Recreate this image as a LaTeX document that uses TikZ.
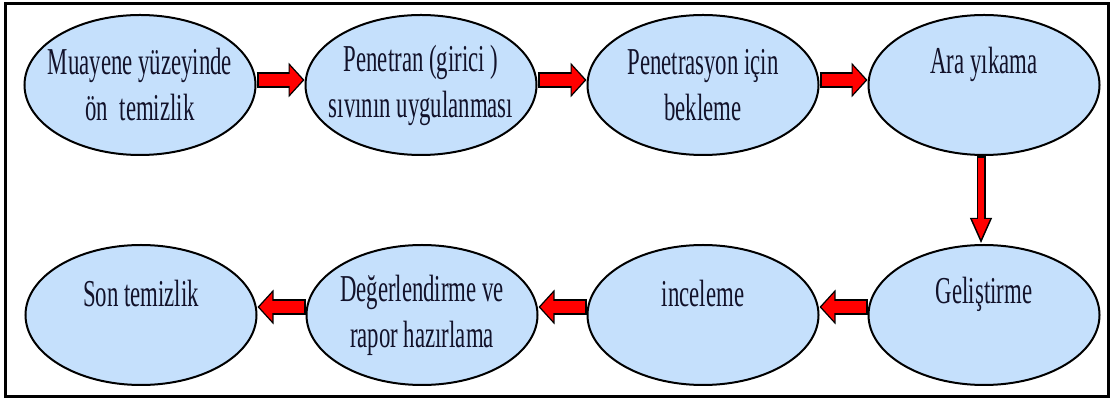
\documentclass[tikz,border=0pt]{standalone}
\usepackage{fontspec}
\setmainfont[FakeStretch=0.6]{Liberation Serif}
\usetikzlibrary{shapes.geometric,arrows.meta}
\definecolor{stageblue}{RGB}{197,224,252}
\definecolor{flowred}{RGB}{255,0,0}
\definecolor{inkblue}{RGB}{18,18,42}

\begin{document}
\begin{tikzpicture}[x=0.5pt,y=-0.5pt,
  stage/.style={ellipse,draw=black,line width=1pt,fill=stageblue,
    minimum width=115.5pt,minimum height=70pt,inner sep=0pt},
  stagetext/.style={align=center,text=inkblue,
    font=\fontsize{19}{23}\selectfont},
  oneline/.style={stagetext,yshift=10.5pt},
  flowedge/.style={draw=black,line width=8pt,-{Triangle[width=17pt,length=8pt]}},
  flowcore/.style={draw=flowred,line width=6pt,shorten <=1pt,shorten >=0.96pt,
    -{Triangle[width=13.9pt,length=6.5pt]}},
  downedge/.style={draw=black,line width=4.5pt,-{Triangle[width=10pt,length=13pt]}},
  downcore/.style={draw=flowred,line width=3pt,shorten <=1pt,shorten >=2.1pt,
    -{Triangle[width=8pt,length=10.3pt]}}]
\useasboundingbox (0,0) rectangle (1113,405);
\draw[line width=1.5pt] (5,4) rectangle (1108,397);
% Top row
\node[stage,label={[stagetext]center:{Muayene yüzeyinde\\ön\ \ temizlik}}] (clean) at (140,85) {};
\node[stage,label={[stagetext]center:{Penetran (girici )\\sıvının uygulanması}}] (apply) at (421,85) {};
\node[stage,label={[stagetext]center:{Penetrasyon için\\bekleme}}] (dwell) at (703,85) {};
\node[stage,label={[oneline]center:Ara yıkama}] (rinse) at (984,85) {};
% Bottom row
\node[stage,label={[oneline]center:Geliştirme}] (develop) at (984,315) {};
\node[stage,label={[oneline]center:inceleme}] (inspect) at (703,315) {};
\node[stage,label={[stagetext]center:{Değerlendirme ve\\rapor hazırlama}}] (report) at (422,315) {};
\node[stage,label={[oneline]center:Son temizlik}] (final) at (141,315) {};
% Arrows
\foreach \a/\b in {clean/apply,apply/dwell,dwell/rinse} {
  \draw[flowedge] ([yshift=2.5pt]\a.east) -- ([yshift=2.5pt]\b.west);
  \draw[flowcore] ([yshift=2.5pt]\a.east) -- ([yshift=2.5pt]\b.west);
}
\draw[downedge] ([xshift=-1.5pt]rinse.south) -- ([xshift=-1.5pt]develop.north);
\draw[downcore] ([xshift=-1.5pt]rinse.south) -- ([xshift=-1.5pt]develop.north);
\foreach \a/\b in {develop/inspect,inspect/report,report/final} {
  \draw[flowedge] ([yshift=4pt]\a.west) -- ([yshift=4pt]\b.east);
  \draw[flowcore] ([yshift=4pt]\a.west) -- ([yshift=4pt]\b.east);
}
\end{tikzpicture}
\end{document}
